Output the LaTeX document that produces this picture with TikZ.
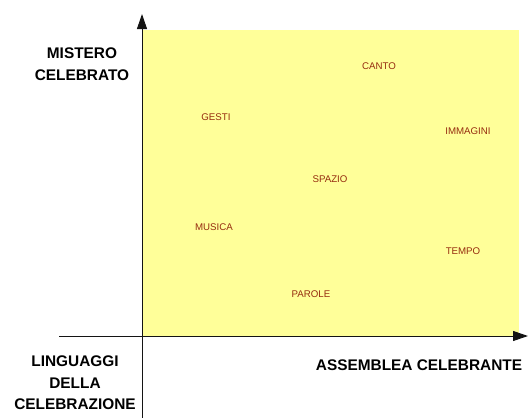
\documentclass[tikz,border=0pt]{standalone}
\usepackage{fontspec}
\setmainfont{Liberation Sans}
\usetikzlibrary{arrows.meta}
\definecolor{panel}{RGB}{255,255,153}
\definecolor{itemred}{RGB}{150,45,15}
\definecolor{axisc}{RGB}{20,20,20}
\tikzset{
  axislabel/.style={font=\fontsize{15.4}{21.5}\selectfont\bfseries, text=black, align=center, inner sep=0pt},
  item/.style={font=\fontsize{9.7}{11}\selectfont, text=itemred, inner sep=0pt},
  axisline/.style={draw=axisc, line width=1pt, -{Triangle[length=15pt,width=10pt]}}
}
\begin{document}
\begin{tikzpicture}[x=1pt,y=-1pt]
\useasboundingbox (0,0) rectangle (528,418);
\fill[panel] (142,30) rectangle (519,336);
\coordinate (vstart) at (142,418);
\coordinate (vend) at (142,14);
\coordinate (hstart) at (59,336);
\coordinate (hend) at (528,336);
\draw[axisline] (vstart) -- (vend);
\draw[axisline] (hstart) -- (hend);
\node[axislabel] (mistero) at (82,64) {MISTERO\\CELEBRATO};
\node[axislabel] (linguaggi) at (75,383) {LINGUAGGI\\DELLA\\CELEBRAZIONE};
\node[axislabel] (assemblea) at (419,365) {ASSEMBLEA CELEBRANTE};
\node[item] (gesti) at (216,117) {GESTI};
\node[item] (canto) at (379,66) {CANTO};
\node[item] (immagini) at (468,131) {IMMAGINI};
\node[item] (spazio) at (330,179) {SPAZIO};
\node[item] (musica) at (214,227) {MUSICA};
\node[item] (tempo) at (463,251) {TEMPO};
\node[item] (parole) at (311,294) {PAROLE};
\end{tikzpicture}
\end{document}
